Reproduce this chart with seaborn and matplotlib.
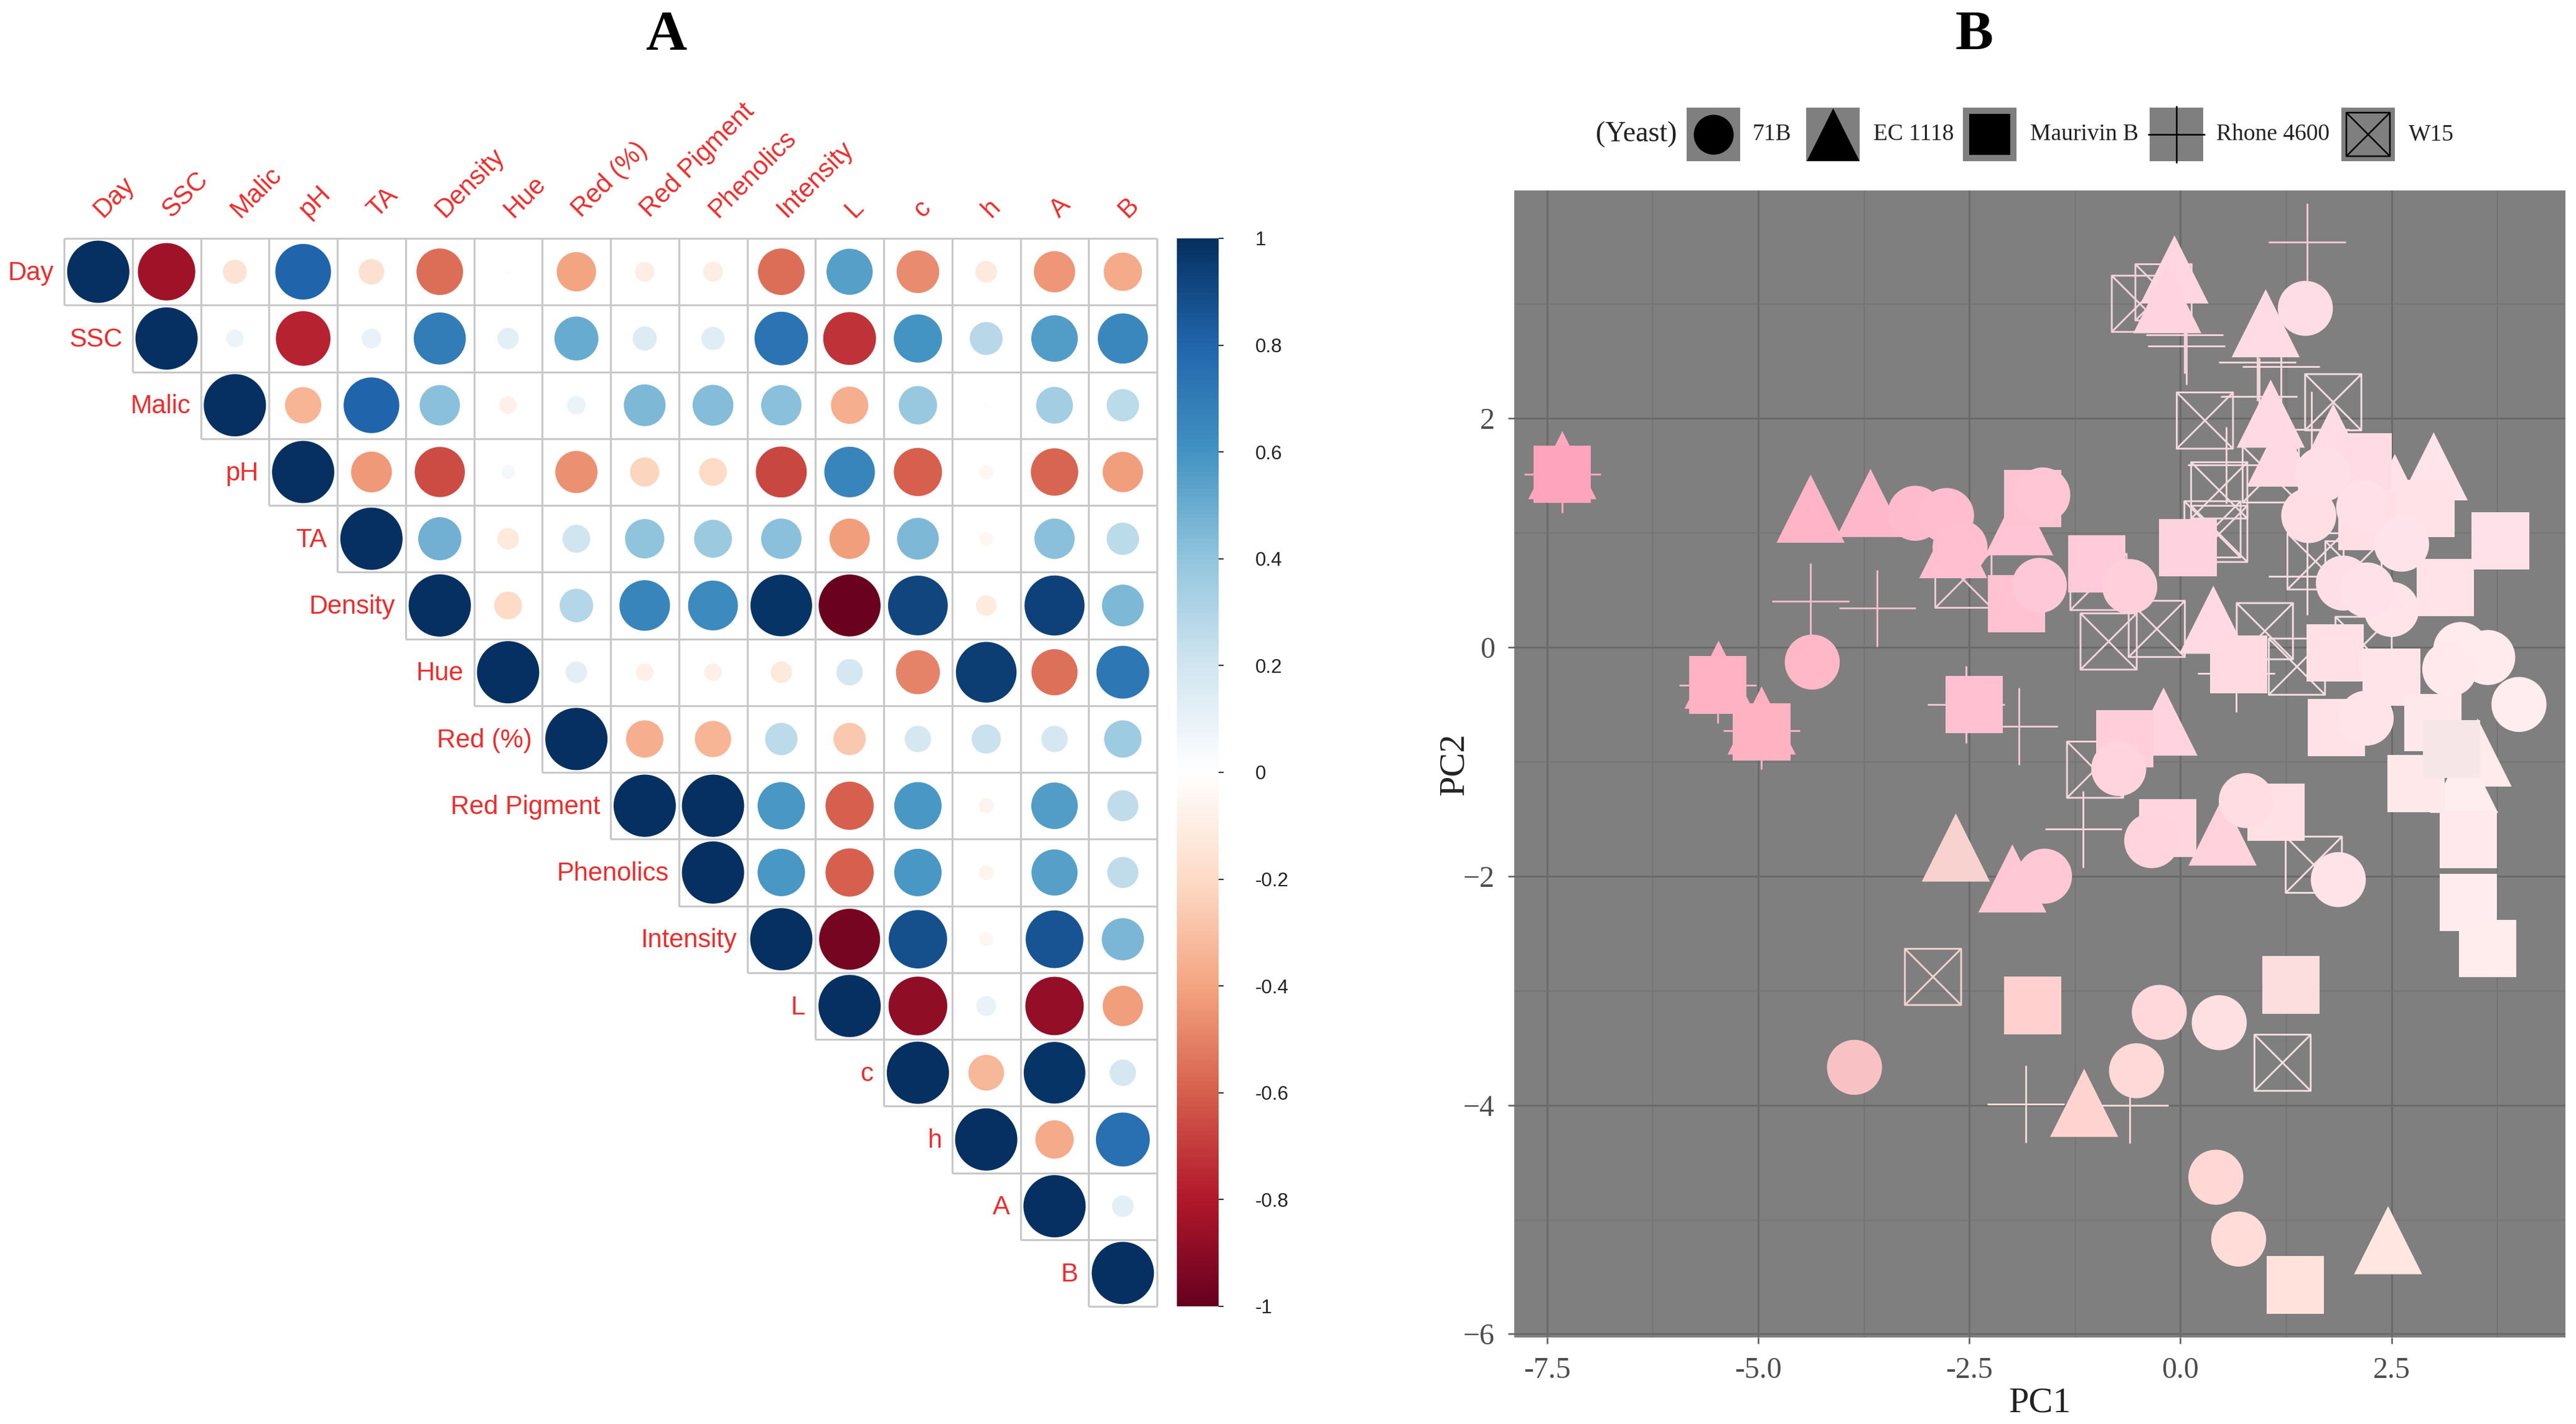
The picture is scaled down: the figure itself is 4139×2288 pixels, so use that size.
import numpy as np
import pandas as pd
import matplotlib
matplotlib.use("Agg")
import matplotlib.pyplot as plt
from matplotlib.cm import ScalarMappable
from matplotlib.colors import LinearSegmentedColormap, Normalize
from matplotlib.patches import Rectangle
from matplotlib.path import Path
import seaborn as sns

variables = ["Day", "SSC", "Malic", "pH", "TA", "Density", "Hue", "Red (%)", "Red Pigment",
             "Phenolics", "Intensity", "L", "c", "h", "A", "B"]
r_day = [1, -0.85, -0.15, 0.80, -0.17, -0.56, 0.01, -0.40, -0.10, -0.10, -0.56, 0.55, -0.47, -0.12, -0.44, -0.38]
r_ssc = [1, 0.08, -0.77, 0.10, 0.70, 0.12, 0.50, 0.15, 0.14, 0.74, -0.72, 0.60, 0.28, 0.56, 0.65]
r_malic = [1, -0.34, 0.80, 0.42, -0.08, 0.09, 0.45, 0.43, 0.42, -0.36, 0.38, 0.01, 0.35, 0.27]
r_ph = [1, -0.43, -0.65, 0.05, -0.46, -0.22, -0.20, -0.67, 0.66, -0.60, -0.05, -0.58, -0.42]
r_ta = [1, 0.48, -0.12, 0.20, 0.40, 0.37, 0.42, -0.42, 0.45, -0.05, 0.42, 0.27]
r_density = [1, -0.20, 0.29, 0.66, 0.64, 0.98, -0.99, 0.92, -0.11, 0.93, 0.45]
r_hue = [1, 0.12, -0.08, -0.08, -0.12, 0.18, -0.50, 0.95, -0.55, 0.72]
r_red = [1, -0.36, -0.34, 0.27, -0.27, 0.18, 0.22, 0.18, 0.36]
r_pigment = [1, 1.0, 0.58, -0.60, 0.58, -0.06, 0.56, 0.25]
r_phenolics = [1, 0.58, -0.60, 0.58, -0.06, 0.55, 0.25]
r_intensity = [1, -0.96, 0.88, -0.05, 0.86, 0.46]
r_l = [1, -0.89, 0.10, -0.88, -0.42]
r_c = [1, -0.33, 0.98, 0.18]
r_h = [1, -0.38, 0.75]
r_a = [1, 0.12]
r_b = [1]
corr_rows = [r_day, r_ssc, r_malic, r_ph, r_ta, r_density, r_hue, r_red, r_pigment, r_phenolics,
             r_intensity, r_l, r_c, r_h, r_a, r_b]

# PCA scores and the per-sample wine colour, by yeast
c_pc1 = [1.48, -3.14, -2.77, -2.61, -1.63, -1.67, -0.60, -4.36, 1.52, 1.93, 2.62, 2.50, 2.17, 1.68, 3.32, 3.64,
         3.19, 4.01, 2.21, 2.20, -0.73, -0.34, 0.78, -1.61, 1.87, -0.25, 0.46, -0.52, -3.86, 0.42, 0.69]
c_pc2 = [2.96, 1.17, 1.15, 0.87, 1.33, 0.54, 0.53, -0.13, 1.15, 0.56, 0.90, 0.33, 1.22, 1.51, -0.02, -0.09,
         -0.19, -0.50, 0.50, -0.62, -1.06, -1.69, -1.34, -2.00, -2.03, -3.19, -3.28, -3.70, -3.67, -4.63, -5.17]
c_col = ["#FFDDE6", "#FFBBCE", "#FFBDCF", "#FFBFD0", "#FFC6D6", "#FFC8D8", "#FFD0DC", "#FFB8C8", "#FFDEE6", "#FFDFE7",
         "#FFE3EA", "#FFE4EA", "#FFE0E8", "#FFDFE7", "#FFEAEE", "#FFEBEE", "#FFE9ED", "#FFEDEF", "#FFE2E9", "#FFE4E9",
         "#FFD4DE", "#FFD4DE", "#FFDDE3", "#FFC8D4", "#FFE3E8", "#FFD8DC", "#FFE0E2", "#FFD8D8", "#F8C2C4", "#FFD8D6", "#FFDCD8"]

t_pc1 = [-7.32, -4.38, -3.67, -0.07, -0.155, 1.01, 1.07, 1.81, 1.19, 3.00, 2.54, -1.91, -2.69, 0.39, -5.47, -4.96,
         -0.20, -2.66, -1.99, 0.50, -1.14, 2.46, 3.52, 3.36]
t_pc2 = [1.59, 1.21, 1.26, 3.30, 3.04, 2.83, 2.04, 1.83, 1.70, 1.58, 1.39, 1.10, 0.90, 0.24, -0.24, -0.64,
         -0.65, -1.75, -2.02, -1.61, -3.98, -5.18, -0.92, -1.15]
t_col = ["#FFA8BE", "#FFB4C8", "#FFB8CB", "#FFD6E2", "#FFD4E0", "#FFDBE5", "#FFDAE4", "#FFDCE6", "#FFD9E3", "#FFE4EC",
         "#FFE2E9", "#FFC4D5", "#FFC0D2", "#FFDAE4", "#FFB0C4", "#FFB0C2", "#FFD4E0", "#F8D2CE", "#FFC8D4", "#FFD2DC",
         "#FFD4D0", "#FFE6E0", "#FFEAEC", "#FFEEEF"]

s_pc1 = [-7.32, -1.75, -1.94, -0.99, 0.09, 3.79, 2.16, 2.91, 2.21, 3.14, 0.69, 1.83, 2.50, -5.48, -4.96, -2.44,
         -0.66, 1.85, 2.99, 2.79, 3.21, 3.41, 3.41, 3.64, -0.15, 1.13, -1.75, 1.31, 1.36]
s_pc2 = [1.51, 1.30, 0.38, 0.73, 0.87, 0.93, 1.62, 1.21, 1.10, 0.52, -0.15, -0.05, -0.26, -0.33, -0.74, -0.50,
         -0.80, -0.70, -0.66, -1.19, -0.89, -1.68, -2.23, -2.63, -1.58, -1.44, -3.13, -2.95, -5.57]
s_col = ["#FFA4BC", "#FFC4D4", "#FFC2D2", "#FFCBDA", "#FFD2DF", "#FFE2E9", "#FFDCE5", "#FFE1E8", "#FFDEE6", "#FFE3E9",
         "#FFDAE3", "#FFE0E7", "#FFE5EA", "#FFB2C4", "#FFB2C2", "#FFC0D2", "#FFCEDA", "#FFE2E7", "#FFE8EB", "#FFE8EA",
         "#F6E6E8", "#FFE9EC", "#FFECEE", "#FFEDEE", "#FFD6E0", "#FFE0E5", "#FFD0CE", "#FCDEDE", "#FFE2DC"]

p_pc1 = [1.50, 0.05, 0.07, 0.91, 1.19, 0.93, 1.55, 0.54, -4.38, -3.59, 1.50, 0.66, -5.48, -4.96, -2.54, -1.91,
         -1.15, -1.83, -0.60, -7.32]
p_pc2 = [3.54, 2.73, 2.63, 2.49, 2.45, 2.19, 1.90, 1.59, 0.40, 0.34, 0.62, -0.23, -0.33, -0.73, -0.50, -0.69,
         -1.59, -3.99, -4.00, 1.51]
p_col = ["#F2C8D4", "#F5D2DC", "#F5D2DC", "#F5D8DE", "#F5D8DE", "#F5D8DE", "#F5D8DE", "#F5D8DE", "#F0BCCA", "#F0C0CC",
         "#F5DCE2", "#F5DCE2", "#F5B4C4", "#F5B4C4", "#F0C4D0", "#F2C8D4", "#F5D4DC", "#F2D8D8", "#F2D8D8", "#FFA8BE"]

x_pc1 = [-0.48, -0.20, 1.81, 0.29, 1.07, 0.46, 0.38, 0.46, -2.57, -0.97, -0.85, -0.28, 1.00, 1.38, 1.60, 2.05,
         2.17, -1.01, 1.58, -2.93, 1.21]
x_pc2 = [3.00, 3.10, 2.14, 1.98, 1.51, 1.37, 1.03, 0.99, 0.59, 0.57, 0.05, 0.16, 0.14, -0.17, 0.75, 0.68,
         0.02, -1.07, -1.90, -2.88, -3.63]
x_col = ["#F2D2DC", "#F2D2DC", "#F2DDE2", "#F2D8DF", "#F2DCE2", "#F2DCE2", "#F2DAE0", "#F2DAE0", "#F0CCD6", "#F2D0DA",
         "#F2D4DC", "#F2D6DE", "#F2DDE2", "#F2DDE2", "#F2DDE2", "#F2DDE2", "#F2DFE4", "#F2D6DC", "#F2DFE2", "#F2D0D0", "#F0DEDE"]

legend_names = ["71B", "EC 1118", "Maurivin B", "Rhone 4600", "W15"]
pc1_ticks = [-7.5, -5.0, -2.5, 0.0, 2.5]
pc2_ticks = [-6, -4, -2, 0, 2]
cbar_ticks = [-1, -0.8, -0.6, -0.4, -0.2, 0, 0.2, 0.4, 0.6, 0.8, 1]

W, H = 4139, 2288
DPI = 300
sns.set_style("white")
SANS = ["Liberation Sans", "DejaVu Sans"]
SERIF = ["Liberation Serif", "DejaVu Serif"]
plt.rcParams["font.family"] = SANS
RED = "#EE2C2C"
GREY = "#7F7F7F"


def axes_px(left, top, right, bottom, **kw):
    return fig.add_axes([left / W, 1 - bottom / H, (right - left) / W, (bottom - top) / H], **kw)


fig = plt.figure(figsize=(W / DPI, H / DPI), dpi=DPI, facecolor="white")

# ---------- Panel A ----------
n = len(variables)
rows = []
for i, vals in enumerate(corr_rows):
    for k, v in enumerate(vals):
        rows.append((i + k + 0.5, i + 0.5, v, abs(v)))
corr_df = pd.DataFrame(rows, columns=["col", "row", "r", "mag"])

corr_cmap = LinearSegmentedColormap.from_list(
    "corrRdBu", ["#67001F", "#B2182B", "#D6604D", "#F4A582", "#FDDBC7", "#FFFFFF",
                 "#D1E5F0", "#92C5DE", "#4393C3", "#2166AC", "#053061"])

axA = axes_px(103, 383, 1859, 2099)
sns.scatterplot(data=corr_df, x="col", y="row", hue="r", palette=corr_cmap, hue_norm=(-1, 1),
                size="mag", sizes=(0, 576), size_norm=(0, 1), linewidth=0, legend=False, ax=axA, zorder=3)
# upper-triangle cell borders
GRID = "#C8C8C8"
for i in range(n + 1):
    axA.hlines(i, max(i - 1, 0), n, color=GRID, linewidth=0.75, zorder=1, clip_on=False)
    axA.vlines(i, 0, min(i + 1, n), color=GRID, linewidth=0.75, zorder=1, clip_on=False)
axA.set_xlim(0, n)
axA.set_ylim(n, 0)
axA.set_xlabel("")
axA.set_ylabel("")
axA.set_xticks([])
axA.set_yticks([])
for sp in axA.spines.values():
    sp.set_visible(False)
for i, name in enumerate(variables):
    axA.text(i - 0.15, i + 0.52, name, color=RED, fontsize=10, ha="right", va="center", clip_on=False)
    axA.text(i + 0.5, -0.37, name, color=RED, fontsize=10, rotation=45, rotation_mode="anchor",
             ha="left", va="center", clip_on=False)

cax = axes_px(1891, 383, 1958, 2099)
cb = fig.colorbar(ScalarMappable(norm=Normalize(-1, 1), cmap=corr_cmap), cax=cax)
cb.set_ticks(cbar_ticks)
cb.set_ticklabels(["-1", "-0.8", "-0.6", "-0.4", "-0.2", "0", "0.2", "0.4", "0.6", "0.8", "1"])
cb.ax.tick_params(labelsize=7.5, length=2, width=0.5, color="#333333", labelcolor="#222222", pad=12, right=True)
cb.outline.set_visible(False)

# ---------- Panel B ----------
axB = axes_px(2433, 306, 4122, 2149)
axB.set_facecolor(GREY)

box_x = Path(
    [(-0.5, -0.5), (0.5, -0.5), (0.5, 0.5), (-0.5, 0.5), (-0.5, -0.5), (0.5, 0.5), (-0.5, 0.5), (0.5, -0.5)],
    [Path.MOVETO, Path.LINETO, Path.LINETO, Path.LINETO, Path.LINETO, Path.LINETO, Path.MOVETO, Path.LINETO])


def outline_last(ax, before):
    for coll in ax.collections[before:]:
        coll.set_edgecolor(coll.get_facecolor())
        coll.set_facecolor("none")


def draw(ax, x, y, col, marker, size, lw=0.0):
    sns.scatterplot(x=x, y=y, hue=col, palette={c: c for c in col}, marker=marker, s=size,
                    linewidth=lw, legend=False, ax=ax, zorder=3)


before = len(axB.collections)
draw(axB, x_pc1, x_pc2, x_col, box_x, 470, 0.7)
outline_last(axB, before)
draw(axB, p_pc1, p_pc2, p_col, "+", 880, 0.7)
draw(axB, t_pc1, t_pc2, t_col, "^", 690)
draw(axB, s_pc1, s_pc2, s_col, "s", 490)
draw(axB, c_pc1, c_pc2, c_col, "o", 450)

axB.set_xlim(-7.89, 4.56)
axB.set_ylim(-6.03, 3.99)
axB.set_xticks(pc1_ticks)
axB.set_xticklabels([f"{v:.1f}" for v in pc1_ticks])
axB.set_yticks(pc2_ticks)
axB.set_xticks([-6.25, -3.75, -1.25, 1.25, 3.75], minor=True)
axB.set_yticks([-5, -3, -1, 1, 3], minor=True)
axB.set_axisbelow(True)
axB.grid(which="major", color="#6A6A6A", linewidth=0.7)
axB.grid(which="minor", color="#727272", linewidth=0.35)
axB.tick_params(which="major", bottom=True, left=True, length=2.5, width=0.6, color="#5A5A5A",
                labelcolor="#4D4D4D", labelsize=11.5, pad=5)
axB.tick_params(which="minor", bottom=False, left=False)
for lab in axB.get_xticklabels() + axB.get_yticklabels():
    lab.set_fontfamily(SERIF)
axB.set_xlabel("PC1", fontsize=14, family=SERIF, color="#222222", labelpad=1)
axB.set_ylabel("PC2", fontsize=14, family=SERIF, color="#222222", labelpad=-3)
for sp in axB.spines.values():
    sp.set_visible(False)

# ---------- Overlay: titles and legend strip ----------
over = axes_px(0, 0, W, H)
over.set_xlim(0, W)
over.set_ylim(H, 0)
over.axis("off")
over.patch.set_alpha(0)
over.text(1070, 58, "A", fontsize=22, fontweight="bold", family=SERIF, ha="center", va="center", color="black")
over.text(3172, 58, "B", fontsize=22, fontweight="bold", family=SERIF, ha="center", va="center", color="black")

LEG_Y = 216
over.text(2564, LEG_Y, "(Yeast)", fontsize=11, family=SERIF, ha="left", va="center", color="#222222")
key_left = [2710, 2902, 3154, 3454, 3762]
text_left = [2816, 3010, 3262, 3561, 3870]
key_marker = ["o", "^", "s", "+", box_x]
key_size = [237, 416, 256, 490, 282]
for kl, tl, m, sz, name in zip(key_left, text_left, key_marker, key_size, legend_names):
    over.add_patch(Rectangle((kl, LEG_Y - 43), 86, 86, facecolor=GREY, edgecolor="none"))
    if m == "+":
        over.scatter([kl + 43], [LEG_Y], marker=m, s=sz, linewidths=0.6, color="black", zorder=3)
    elif m is box_x:
        over.scatter([kl + 43], [LEG_Y], marker=m, s=sz, linewidths=0.6, facecolors="none",
                     edgecolors="black", zorder=3)
    else:
        over.scatter([kl + 43], [LEG_Y], marker=m, s=sz, linewidths=0, color="black", zorder=3)
    over.text(tl, LEG_Y, name, fontsize=9, family=SERIF, ha="left", va="center", color="#222222")

fig.savefig("out.png", dpi=DPI, facecolor="white")
